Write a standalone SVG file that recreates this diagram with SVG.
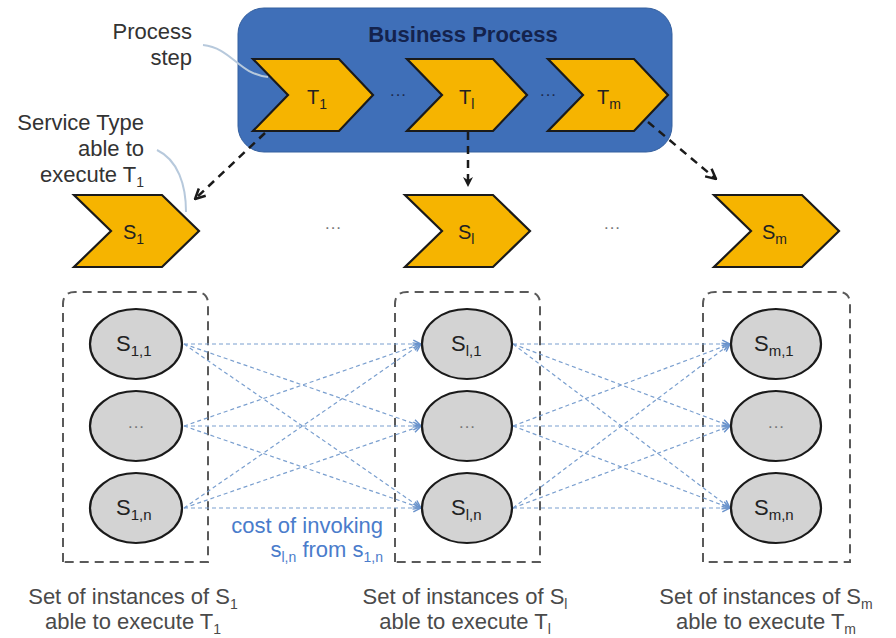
<svg xmlns="http://www.w3.org/2000/svg" width="896" height="638" viewBox="0 0 896 638">
  <defs>
    <style>
      .lbl { font-family: "Liberation Sans", Arial, sans-serif; fill: #222; }
      .note { font-family: "Liberation Sans", Arial, sans-serif; fill: #4a4a4a; font-size: 22px; }
      .cost { font-family: "Liberation Sans", Arial, sans-serif; fill: #4a7ccb; font-size: 22px; }
      .chev { fill: #f6b400; stroke: #1a1a1a; stroke-width: 2.2; stroke-linejoin: miter; }
      .inst { fill: #d3d3d3; stroke: #1a1a1a; stroke-width: 2.2; }
      .set { fill: none; stroke: #5a5a5a; stroke-width: 2; stroke-dasharray: 9 6; }
      .flow { fill: none; stroke: #1a1a1a; stroke-width: 2.5; stroke-dasharray: 8 6; }
      .invoke { fill: none; stroke: #7a9fcf; stroke-width: 1.2; stroke-dasharray: 4 3; }
      .callout { fill: none; stroke: #b7c9dc; stroke-width: 2; }
      .dots { font-family: "Liberation Sans", Arial, sans-serif; fill: #777; font-size: 17px; }
    </style>
    <marker id="openHead" viewBox="0 0 10 10" refX="9" refY="5" markerWidth="5" markerHeight="5" orient="auto" markerUnits="strokeWidth">
      <path d="M1,1 L9,5 L1,9" fill="none" stroke="#1a1a1a" stroke-width="2"/>
    </marker>
    <marker id="solidHead" viewBox="0 0 10 10" refX="9" refY="5" markerWidth="4" markerHeight="4" orient="auto" markerUnits="strokeWidth">
      <path d="M0,0 L10,5 L0,10 L3,5 Z" fill="#1a1a1a"/>
    </marker>
    <marker id="blueHead" viewBox="0 0 10 10" refX="9" refY="5" markerWidth="8" markerHeight="8" orient="auto" markerUnits="strokeWidth">
      <path d="M1,1 L9,5 L1,9" fill="none" stroke="#6a93cc" stroke-width="1.5"/>
    </marker>
    <!-- step chevrons -->
    <path id="chevT" d="M0,0 L86,0 L120,36 L86,72 L0,72 L35,36 Z"/>
    <path id="chevS" d="M0,0 L88,0 L125,36 L88,72 L0,72 L37,36 Z"/>
  </defs>

  <!-- business process container -->
  <g id="business-process">
    <rect x="238" y="8" width="434" height="144" rx="26" ry="26" fill="#3f6fb8" stroke="#35609f" stroke-width="1"/>
    <text x="463" y="42" text-anchor="middle" font-family="Liberation Sans, Arial, sans-serif" font-weight="bold" font-size="22" fill="#14234d">Business Process</text>
  </g>

  <!-- process steps -->
  <g id="step-T1">
    <use href="#chevT" x="253" y="59" class="chev"/>
    <text class="lbl" x="307" y="104" font-size="20">T<tspan font-size="14" dy="5">1</tspan></text>
  </g>
  <g id="step-Tl">
    <use href="#chevT" x="407" y="59" class="chev"/>
    <text class="lbl" x="459" y="104" font-size="20">T<tspan font-size="14" dy="5">l</tspan></text>
  </g>
  <g id="step-Tm">
    <use href="#chevT" x="548" y="59" class="chev"/>
    <text class="lbl" x="597" y="104" font-size="20">T<tspan font-size="14" dy="5">m</tspan></text>
  </g>
  <text class="dots" x="398" y="100" text-anchor="middle" style="fill:#1d2b4f">···</text>
  <text class="dots" x="548" y="100" text-anchor="middle" style="fill:#1d2b4f">···</text>

  <!-- service types -->
  <g id="type-S1">
    <use href="#chevS" x="74" y="195" class="chev"/>
    <text class="lbl" x="123" y="239" font-size="20">S<tspan font-size="14" dy="5">1</tspan></text>
  </g>
  <g id="type-Sl">
    <use href="#chevS" x="405" y="195" class="chev"/>
    <text class="lbl" x="458" y="239" font-size="20">S<tspan font-size="14" dy="5">l</tspan></text>
  </g>
  <g id="type-Sm">
    <use href="#chevS" x="714" y="195" class="chev"/>
    <text class="lbl" x="762" y="239" font-size="20">S<tspan font-size="14" dy="5">m</tspan></text>
  </g>
  <text class="dots" x="333" y="233" text-anchor="middle">···</text>
  <text class="dots" x="612" y="233" text-anchor="middle">···</text>

  <!-- instance sets -->
  <g id="set-1">
    <path class="set" d="M63,562 L63,304 Q63,292 75,292 L196,292 Q208,292 208,304 L208,562 Z"/>
  </g>
  <g id="set-l">
    <path class="set" d="M395,562 L395,304 Q395,292 407,292 L528,292 Q540,292 540,304 L540,562 Z"/>
  </g>
  <g id="set-m">
    <path class="set" d="M703,562 L703,304 Q703,292 715,292 L838,292 Q850,292 850,304 L850,562 Z"/>
  </g>

  <!-- invocation cost edges and step-to-type arrows -->
  <g id="connectors">
    <g class="invoke" marker-end="url(#blueHead)">
      <line x1="184" y1="344" x2="421" y2="344"/>
      <line x1="184" y1="344" x2="421" y2="426"/>
      <line x1="184" y1="344" x2="421" y2="508"/>
      <line x1="184" y1="426" x2="421" y2="344"/>
      <line x1="184" y1="426" x2="421" y2="426"/>
      <line x1="184" y1="426" x2="421" y2="508"/>
      <line x1="184" y1="508" x2="421" y2="344"/>
      <line x1="184" y1="508" x2="421" y2="426"/>
      <line x1="184" y1="508" x2="421" y2="508"/>
      <line x1="513" y1="344" x2="730" y2="344"/>
      <line x1="513" y1="344" x2="730" y2="426"/>
      <line x1="513" y1="344" x2="730" y2="508"/>
      <line x1="513" y1="426" x2="730" y2="344"/>
      <line x1="513" y1="426" x2="730" y2="426"/>
      <line x1="513" y1="426" x2="730" y2="508"/>
      <line x1="513" y1="508" x2="730" y2="344"/>
      <line x1="513" y1="508" x2="730" y2="426"/>
      <line x1="513" y1="508" x2="730" y2="508"/>
    </g>
    <line class="flow" x1="265" y1="133" x2="195" y2="199" marker-end="url(#openHead)"/>
    <line class="flow" x1="468" y1="132" x2="468" y2="186" marker-end="url(#solidHead)"/>
    <line class="flow" x1="648" y1="122" x2="716" y2="179" marker-end="url(#openHead)"/>
  </g>

  <!-- instances -->
  <g id="inst-1-1"><ellipse class="inst" cx="136" cy="344" rx="46" ry="35"/>
    <text class="lbl" x="116" y="351" font-size="22">S<tspan font-size="15" dy="5">1,1</tspan></text></g>
  <g id="inst-1-x"><ellipse class="inst" cx="136" cy="426" rx="46" ry="35"/>
    <text class="dots" x="136" y="432" text-anchor="middle">···</text></g>
  <g id="inst-1-n"><ellipse class="inst" cx="136" cy="508" rx="46" ry="35"/>
    <text class="lbl" x="116" y="515" font-size="22">S<tspan font-size="15" dy="5">1,n</tspan></text></g>

  <g id="inst-l-1"><ellipse class="inst" cx="467" cy="344" rx="45" ry="35"/>
    <text class="lbl" x="451" y="351" font-size="22">S<tspan font-size="15" dy="5">l,1</tspan></text></g>
  <g id="inst-l-x"><ellipse class="inst" cx="467" cy="426" rx="45" ry="35"/>
    <text class="dots" x="467" y="432" text-anchor="middle">···</text></g>
  <g id="inst-l-n"><ellipse class="inst" cx="467" cy="508" rx="45" ry="35"/>
    <text class="lbl" x="451" y="515" font-size="22">S<tspan font-size="15" dy="5">l,n</tspan></text></g>

  <g id="inst-m-1"><ellipse class="inst" cx="776" cy="344" rx="45" ry="35"/>
    <text class="lbl" x="754" y="351" font-size="22">S<tspan font-size="15" dy="5">m,1</tspan></text></g>
  <g id="inst-m-x"><ellipse class="inst" cx="776" cy="426" rx="45" ry="35"/>
    <text class="dots" x="776" y="432" text-anchor="middle">···</text></g>
  <g id="inst-m-n"><ellipse class="inst" cx="776" cy="508" rx="45" ry="35"/>
    <text class="lbl" x="754" y="515" font-size="22">S<tspan font-size="15" dy="5">m,n</tspan></text></g>

  <!-- annotations -->
  <g id="note-process-step">
    <text class="note" x="192" y="39" text-anchor="end" style="fill:#333">Process</text>
    <text class="note" x="192" y="65" text-anchor="end" style="fill:#333">step</text>
    <path class="callout" d="M203,45 C232,48 238,74 268,77"/>
  </g>
  <g id="note-service-type">
    <text class="note" x="144" y="130" text-anchor="end" style="fill:#333">Service Type</text>
    <text class="note" x="144" y="156" text-anchor="end" style="fill:#333">able to</text>
    <text class="note" x="144" y="182" text-anchor="end" style="fill:#333">execute T<tspan font-size="14" dy="5">1</tspan></text>
    <path class="callout" d="M157,150 C178,160 186,185 186,212"/>
  </g>
  <g id="note-cost">
    <text class="cost" x="383" y="533" text-anchor="end">cost of invoking</text>
    <text class="cost" x="383" y="557" text-anchor="end">s<tspan font-size="14" dy="5">l,n</tspan><tspan dy="-5"> from s</tspan><tspan font-size="14" dy="5">1,n</tspan></text>
  </g>
  <g id="caption-1">
    <text class="note" x="133" y="604" text-anchor="middle">Set of instances of S<tspan font-size="14" dy="5">1</tspan></text>
    <text class="note" x="133" y="629" text-anchor="middle">able to execute T<tspan font-size="14" dy="5">1</tspan></text>
  </g>
  <g id="caption-l">
    <text class="note" x="465" y="604" text-anchor="middle">Set of instances of S<tspan font-size="14" dy="5">l</tspan></text>
    <text class="note" x="465" y="629" text-anchor="middle">able to execute T<tspan font-size="14" dy="5">l</tspan></text>
  </g>
  <g id="caption-m">
    <text class="note" x="766" y="604" text-anchor="middle">Set of instances of S<tspan font-size="14" dy="5">m</tspan></text>
    <text class="note" x="766" y="629" text-anchor="middle">able to execute T<tspan font-size="14" dy="5">m</tspan></text>
  </g>
</svg>
